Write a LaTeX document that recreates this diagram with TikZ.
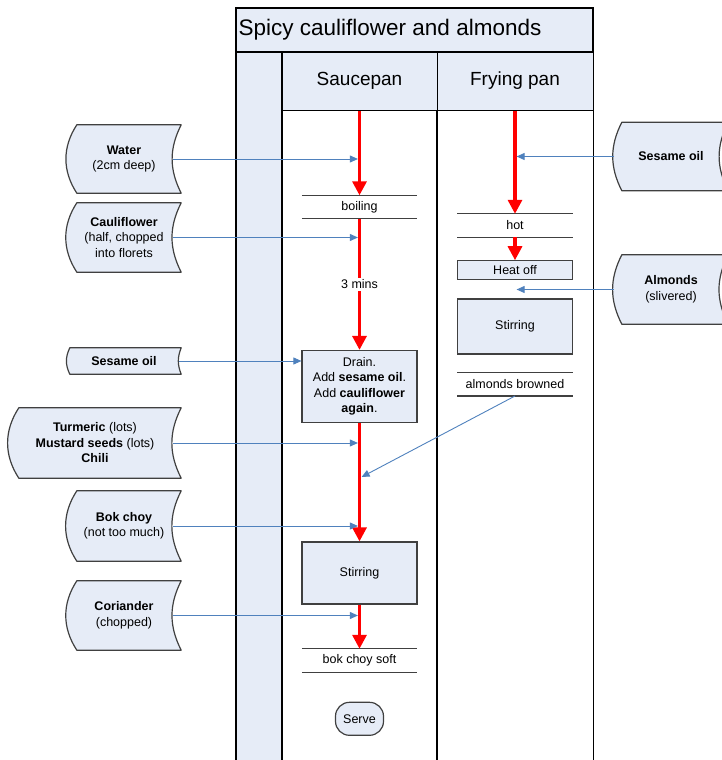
\documentclass[tikz,border=0pt]{standalone}
\usepackage{fontspec}
\setmainfont{Liberation Sans}
\usetikzlibrary{arrows.meta, positioning, backgrounds}
\definecolor{lanefill}{RGB}{230,236,247}
\definecolor{boxline}{RGB}{64,64,64}
\definecolor{feedblue}{RGB}{79,129,189}
\tikzset{
  txt/.style={font=\fontsize{12.5}{15.5}\selectfont, align=center, inner sep=0pt},
  stepbox/.style={txt, rectangle, draw=boxline, line width=1.2pt, fill=lanefill, minimum width=115pt},
  barline/.style={-, draw=boxline, line width=1.2pt},
  statebar/.style={txt, minimum width=115pt, minimum height=23pt,
    append after command={(\tikzlastnode.north west) edge[barline] (\tikzlastnode.north east)
      (\tikzlastnode.south west) edge[barline] (\tikzlastnode.south east)}},
  store/.style={txt, minimum width=114pt},
  storeline/.style={draw=boxline, line width=1.2pt, fill=lanefill, line join=round},
  lanehead/.style={draw=black, line width=1pt, fill=lanefill, font=\fontsize{19}{22}\selectfont, inner sep=0pt},
  laneline/.style={draw=black, line width=1.2pt},
  flow/.style={-{Triangle[length=14pt,width=14pt]}, draw=red, line width=3.2pt},
  feed/.style={-{Triangle[length=8pt,width=7pt]}, draw=feedblue, line width=0.9pt}
}

\begin{document}
\begin{tikzpicture}[x=1pt, y=-1pt]
    \useasboundingbox (0,0) rectangle (722,760);
    \clip (0,0) rectangle (722,760);

    % pool and lanes
    \draw[laneline, fill=lanefill] (236,8) rectangle (593,52);
    \node[anchor=west, font=\fontsize{22.5}{26}\selectfont, inner sep=0pt] (title) at (238.5,30) {Spicy cauliflower and almonds};
    \draw[laneline, fill=lanefill] (236,52) rectangle (282,790);
    \node[lanehead, minimum width=155pt, minimum height=58pt] (sauce) at (359.5,81) {Saucepan};
    \node[lanehead, minimum width=156pt, minimum height=58pt] (fry) at (515,81) {Frying pan};
    \draw[laneline] (sauce.south west) rectangle ([yshift=-700pt]sauce.south east);
    \draw[laneline] (fry.south west) rectangle ([yshift=-700pt]fry.south east);
    \draw[line width=2pt] (236,52) -- (593,52);

    % saucepan
    \node[statebar] (boil) at (359.5,207) {boiling};
    \node[stepbox, minimum height=72pt] (drain) at (359.5,386.5) {Drain.\\Add \textbf{sesame oil}.\\Add \textbf{cauliflower}\\\textbf{again}.};
    \node[stepbox, minimum height=62pt] (stirA) at (359.5,573) {Stirring};
    \node[statebar] (soft) at (359.5,660.5) {bok choy soft};
    \node[stepbox, rounded corners=14pt, minimum width=48pt, minimum height=33pt, below=29.5pt of soft] (serve) {Serve};

    % frying pan
    \node[statebar] (hot) at (515,225.5) {hot};
    \node[stepbox, minimum height=19pt, below=23pt of hot] (heatoff) {Heat off};
    \node[stepbox, minimum height=55pt, below=18pt of heatoff] (stirB) {Stirring};
    \node[statebar, below=18pt of stirB] (browned) {almonds browned};

    % ingredients
    \node[store, minimum height=68pt] (water) at (124,159) {\textbf{Water}\\(2cm deep)};
    \node[store, minimum height=69pt] (cauli) at (124,237.5) {\textbf{Cauliflower}\\(half, chopped\\into florets};
    \node[store, minimum height=26pt] (sesL) at (124,361) {\textbf{Sesame oil}};
    \node[store, minimum width=172pt, minimum height=70pt] (turmeric) at (95,443) {\textbf{Turmeric} (lots)\\\textbf{Mustard seeds} (lots)\\\textbf{Chili}};
    \node[store, minimum height=70pt] (bokchoy) at (124,526) {\textbf{Bok choy}\\(not too much)};
    \node[store, minimum height=69pt] (coriander) at (124,615.5) {\textbf{Coriander}\\(chopped)};
    \node[store, minimum height=68pt] (sesR) at (671,156.5) {\textbf{Sesame oil}};
    \node[store, minimum height=69pt] (almonds) at (671,289.5) {\textbf{Almonds}\\(slivered)};
    \begin{scope}[on background layer]
    \foreach \n/\d/\a/\b in {water/10/33/27, cauli/10/33/27, sesL/3/26/22, turmeric/10/33/27,
        bokchoy/10/33/27, coriander/10/33/27, sesR/8/27/27, almonds/8/27/27}
      \draw[storeline] ([xshift=\d]\n.north west) -- (\n.north east)
        to[bend right=\b] (\n.south east)
        -- ([xshift=\d]\n.south west)
        to[bend left=\a] ([xshift=\d]\n.north west) -- cycle;
    \end{scope}

    % main flow
    \draw[flow] (sauce.south) -- (boil.north);
    \draw[flow] (boil.south) -- node[txt, fill=white, inner sep=2pt] (mins) {3 mins} (drain.north);
    \draw[flow] (drain.south) -- (stirA.north);
    \draw[flow] (stirA.south) -- (soft.north);
    \draw[flow] (fry.south) -- (hot.north);
    \draw[flow] (hot.south) -- (heatoff.north);

    % ingredients in
    \foreach \n in {water, cauli, turmeric, bokchoy, coriander}
      \draw[feed] ([xshift=-8pt]\n.east) -- ([xshift=-1.6pt]\n.east -| sauce.south);
    \draw[feed] ([xshift=-2.5pt]sesL.east) -- (sesL.east -| drain.west);
    \draw[feed] (sesR.west) -- ([xshift=1.6pt]sesR.west -| fry.south);
    \draw[feed] (almonds.west) -- ([xshift=1.6pt]almonds.west -| fry.south);
    \coordinate (brownin) at (361.6,477);
    \draw[feed] (browned.south) -- (brownin);
\end{tikzpicture}
\end{document}
